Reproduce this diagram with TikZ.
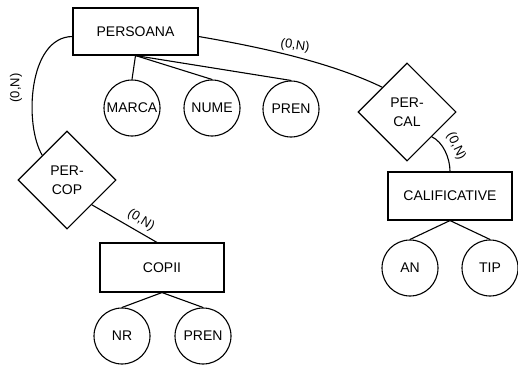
\documentclass[tikz,border=0pt]{standalone}
\usepackage{fontspec}
\setmainfont{Liberation Sans}
\usetikzlibrary{shapes.geometric}
\begin{document}
\begin{tikzpicture}[x=1pt,y=-1pt,line width=1.1pt,
  every node/.style={font=\fontsize{14}{19}\selectfont},
  entity/.style={draw,rectangle,inner sep=0pt},
  attr/.style={draw,circle,minimum size=56pt,inner sep=0pt},
  rel/.style={draw,diamond,minimum width=98pt,minimum height=98pt,inner sep=0pt,align=center},
  card/.style={font=\fontsize{13}{13}\selectfont,inner sep=0pt}]
\useasboundingbox (0,0) rectangle (518,364);

% entities
\node[entity,minimum width=125pt,minimum height=47pt] (pers) at (135.5,31.5) {PERSOANA};
\node[entity,minimum width=124pt,minimum height=48pt] (cal) at (450,196) {CALIFICATIVE};
\node[entity,minimum width=124pt,minimum height=49pt] (copii) at (162,267.5) {COPII};

% relationships
\node[rel] (percal) at (407,112) {PER-\\CAL};
\node[rel] (percop) at (67,180) {PER-\\COP};

% attributes
\node[attr] (marca) at (132,108) {MARCA};
\node[attr] (nume) at (212,108) {NUME};
\node[attr] (pren) at (291,109) {PREN};
\node[attr] (an) at (410,268) {AN};
\node[attr] (tip) at (490,268) {TIP};
\node[attr] (nr) at (122,336) {NR};
\node[attr] (pren2) at (203,336) {PREN};

% attribute links
\draw (pers.south) -- (marca.north);
\draw (pers.south) -- (nume.north);
\draw (pers.south) -- (pren.north);
\draw (cal.south) -- (an.north);
\draw (cal.south) -- (tip.north);
\draw (copii.south) -- (nr.north);
\draw (copii.south) -- (pren2.north);

% relationship links
\draw ([yshift=-5pt]pers.east) .. controls (260,47) and (330,62) .. (percal.north west);
\draw (percal.south east) .. controls (443,142) and (450,158) .. (cal.north);
\draw ([yshift=-5pt]pers.west) .. controls (28,37) and (24,125) .. (percop.north west);
\draw (percop.south east) -- ([xshift=-5pt]copii.north);

% cardinalities
\node[card,rotate=-8] (c1) at (295,46) {(0,N)};
\node[card,rotate=-65] (c2) at (456,146) {(0,N)};
\node[card,rotate=90] (c3) at (16,88) {(0,N)};
\node[card,rotate=-32] (c4) at (141,220) {(0,N)};
\end{tikzpicture}
\end{document}
